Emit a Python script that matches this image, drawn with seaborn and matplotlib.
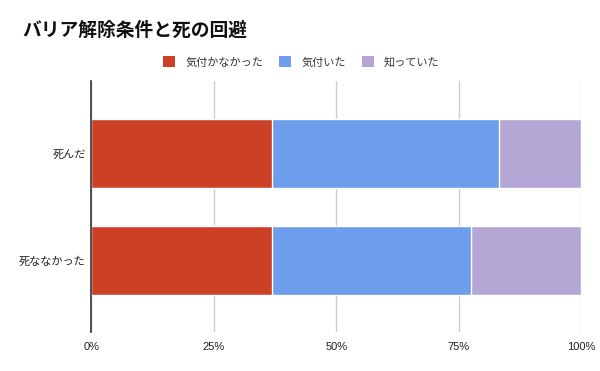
import numpy as np
import pandas as pd
import matplotlib
matplotlib.use('Agg')
import matplotlib.pyplot as plt
from matplotlib.patches import Patch
import seaborn as sns

# data (percent of each row)
categories = ['死んだ', '死ななかった']
series_names = ['気付かなかった', '気付いた', '知っていた']
not_noticed = [36.9, 36.9]
noticed = [46.2, 40.6]
knew = [16.9, 22.5]
x_ticks = [0, 25, 50, 75, 100]
x_tick_labels = ['0%', '25%', '50%', '75%', '100%']

COLORS = ['#cc4125', '#6d9eeb', '#b4a7d6']

sns.set_theme(style='white')
plt.rcParams['font.family'] = ['Liberation Sans', 'Noto Sans CJK JP', 'DejaVu Sans']

df = pd.DataFrame({
    'category': categories * 3,
    'series': np.repeat(series_names, len(categories)),
    'value': not_noticed + noticed + knew,
})
# running total per category, for stacking
df['cum'] = df.groupby('category', sort=False)['value'].cumsum()

fig = plt.figure(figsize=(6, 3.71), dpi=100)
ax = fig.add_axes([0.152, 0.105, 0.817, 0.677])

# draw longest segment first so shorter ones sit on top
for name, color in reversed(list(zip(series_names, COLORS))):
    part = df[df['series'] == name]
    sns.barplot(data=part, x='cum', y='category', order=categories,
                color=color, width=0.645, orient='h', ax=ax,
                saturation=1, zorder=3)

ax.set_xlim(0, 100)
ax.set_ylim(1.668, -0.678)
ax.set_xticks(x_ticks)
ax.set_xticklabels(x_tick_labels)
ax.set_xlabel('')
ax.set_ylabel('')
ax.grid(axis='x', color='#cccccc', linewidth=1, zorder=0)
ax.set_axisbelow(True)
for side in ['top', 'right', 'bottom']:
    ax.spines[side].set_visible(False)
ax.spines['left'].set_color('#333333')
ax.spines['left'].set_linewidth(1.2)
ax.spines['left'].set_zorder(4)
ax.tick_params(axis='both', length=0, labelsize=8, colors='#222222')
ax.tick_params(axis='y', pad=4)
ax.tick_params(axis='x', pad=7)

fig.text(0.038, 0.916, 'バリア解除条件と死の回避', fontsize=13.5, fontweight='bold',
         color='#111111', va='center', ha='left')

handles = [Patch(facecolor=c, edgecolor='none') for c in COLORS]
fig.legend(handles, series_names, loc='center', bbox_to_anchor=(0.502, 0.833),
           ncol=3, frameon=False, fontsize=8, handlelength=1.08, handleheight=1.08,
           handletextpad=0.9, columnspacing=1.45, labelcolor='#333333')

fig.savefig('out.png', dpi=100)
